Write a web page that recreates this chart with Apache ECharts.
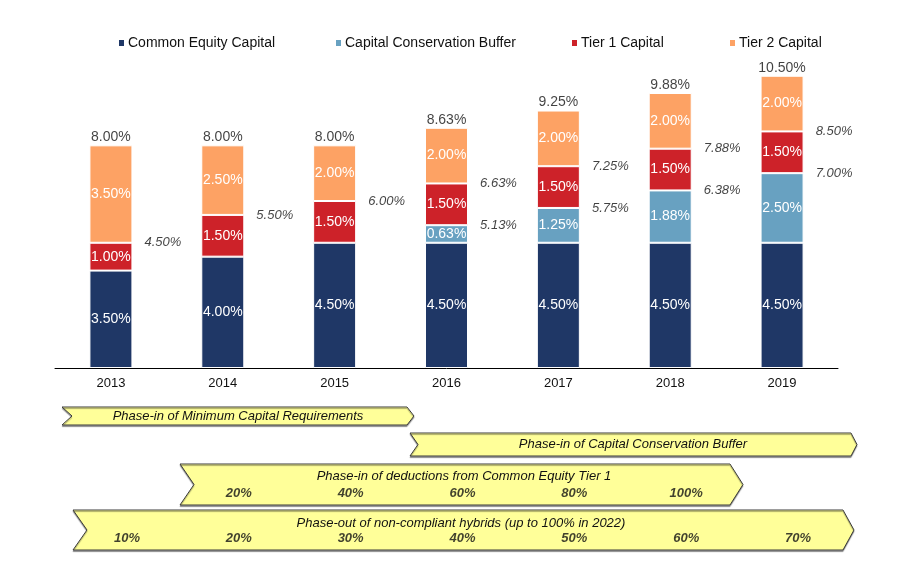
<!DOCTYPE html>
<html>
<head>
<meta charset="utf-8">
<script src="https://cdn.jsdelivr.net/npm/echarts@6/dist/echarts.min.js"></script>
<style>
html,body{margin:0;padding:0;background:#fff;}
#c{width:917px;height:569px;}
</style>
</head>
<body>
<div id="c"></div>
<script>
// ---- data ----
const years = ['2013','2014','2015','2016','2017','2018','2019'];
const commonEquity = [3.50, 4.00, 4.50, 4.50, 4.50, 4.50, 4.50];
const conservationBuffer = [0, 0, 0, 0.63, 1.25, 1.88, 2.50];
const tier1 = [1.00, 1.50, 1.50, 1.50, 1.50, 1.50, 1.50];
const tier2 = [3.50, 2.50, 2.00, 2.00, 2.00, 2.00, 2.00];
const totals = [8.00, 8.00, 8.00, 8.63, 9.25, 9.88, 10.50];
const ceBufferLevel = [null, null, null, 5.13, 5.75, 6.38, 7.00];
const tier1Level = [4.50, 5.50, 6.00, 6.63, 7.25, 7.88, 8.50];
const deductionsPct = [null, 20, 40, 60, 80, 100, null];
const hybridsPct = [10, 20, 30, 40, 50, 60, 70];
const seriesNames = ['Common Equity Capital', 'Capital Conservation Buffer', 'Tier 1 Capital', 'Tier 2 Capital'];

const colors = ['#1F3766', '#68A1C1', '#CD2229', '#FDA264'];
const FONT = 'Liberation Sans, Arial, sans-serif';
const chart = echarts.init(document.getElementById('c'));

function pct(v){ return v.toFixed(2) + '%'; }

function barSeries(name, data, color){
  return {
    name: name, type: 'bar', stack: 'cap', barWidth: 43,
    xAxisIndex: 0, yAxisIndex: 0,
    itemStyle: {color: color, borderColor: '#fff', borderWidth: 1},
    label: {
      show: true, position: 'inside', color: '#fff', fontSize: 14, fontFamily: FONT,
      formatter: p => p.value > 0 ? pct(p.value) : ''
    },
    data: data.map(v => v === 0 ? null : v),
    z: 3
  };
}

function banner(x1, x2, yT, yB, notch, tip){
  const yM = (yT + yB) / 2;
  return {
    type: 'polygon', z: 0,
    shape: {points: [[x1,yT],[x2,yT],[x2+tip,yM],[x2,yB],[x1,yB],[x1+notch,yM]]},
    style: {fill: '#FFFF99', stroke: '#3a3a3a', lineWidth: 1,
      shadowColor: 'rgba(0,0,0,0.35)', shadowOffsetY: 1.5, shadowBlur: 1}
  };
}
function btext(x, y, t){
  return {type: 'text', z: 1, x: x, y: y,
    style: {text: t, fill: '#111', font: 'italic 13px ' + FONT, textAlign: 'center', textVerticalAlign: 'middle'}};
}

const legendLeft = [117, 334, 570, 728];

const option = {
  animation: false,
  backgroundColor: '#fff',
  legend: seriesNames.map((n, i) => ({
    data: [n], left: legendLeft[i], top: 36, itemWidth: 7, itemHeight: 8, icon: 'rect',
    itemGap: 0, padding: 0,
    textStyle: {fontSize: 14, fontFamily: FONT, color: '#111', padding: [0,0,0,-2]}
  })),
  grid: [
    {left: 55, width: 783, top: 34, height: 334},
    {left: 55, width: 783, top: 493, height: 45}
  ],
  xAxis: [
    {type: 'category', data: years, gridIndex: 0,
      axisLine: {lineStyle: {color: '#000', width: 1}}, axisTick: {show: false},
      axisLabel: {color: '#111', fontSize: 13, fontFamily: FONT, margin: 9}},
    {type: 'category', data: years, gridIndex: 1, show: false}
  ],
  yAxis: [
    {type: 'value', min: 0, max: 12, gridIndex: 0, show: false, splitLine: {show: false}},
    {type: 'value', min: 0, max: 1, gridIndex: 1, show: false, splitLine: {show: false}}
  ],
  graphic: [
    banner(62, 407, 407, 425, 10, 7),
    banner(410, 851, 433, 456, 8, 6),
    banner(180, 730, 464, 505, 14, 13),
    banner(73, 843, 510, 550, 14, 11),
    btext(238, 416, 'Phase-in of Minimum Capital Requirements'),
    btext(633, 444, 'Phase-in of Capital Conservation Buffer'),
    btext(464, 476, 'Phase-in of deductions from Common Equity Tier 1'),
    btext(461, 523, 'Phase-out of non-compliant hybrids (up to 100% in 2022)')
  ],
  series: [
    barSeries(seriesNames[0], commonEquity, colors[0]),
    barSeries(seriesNames[1], conservationBuffer, colors[1]),
    barSeries(seriesNames[2], tier1, colors[2]),
    barSeries(seriesNames[3], tier2, colors[3]),
    {
      type: 'scatter', symbolSize: 0, silent: true, z: 5,
      data: totals.map((v, i) => [i, v]),
      label: {show: true, position: 'top', distance: 1, color: '#111', fontSize: 14, fontFamily: FONT,
        formatter: p => pct(p.value[1])}
    },
    {
      type: 'scatter', symbolSize: 0, silent: true, z: 5,
      data: tier1Level.map((v, i) => [i, v]).concat(
        ceBufferLevel.map((v, i) => v == null ? null : [i, v]).filter(d => d)),
      label: {show: true, position: 'inside', offset: [52, 0], color: '#111', fontSize: 13,
        fontStyle: 'italic', fontFamily: FONT, formatter: p => pct(p.value[1])}
    },
    {
      type: 'scatter', symbolSize: 0, silent: true, z: 5, xAxisIndex: 1, yAxisIndex: 1,
      data: deductionsPct.map((v, i) => v == null ? null : [i, 1, v]).filter(d => d)
        .concat(hybridsPct.map((v, i) => [i, 0, v])),
      label: {show: true, position: 'inside', offset: [16, 0], color: '#111', fontSize: 13,
        fontStyle: 'italic', fontWeight: 'bold', fontFamily: FONT, formatter: p => p.value[2] + '%'}
    }
  ]
};
chart.setOption(option);
</script>
</body>
</html>
